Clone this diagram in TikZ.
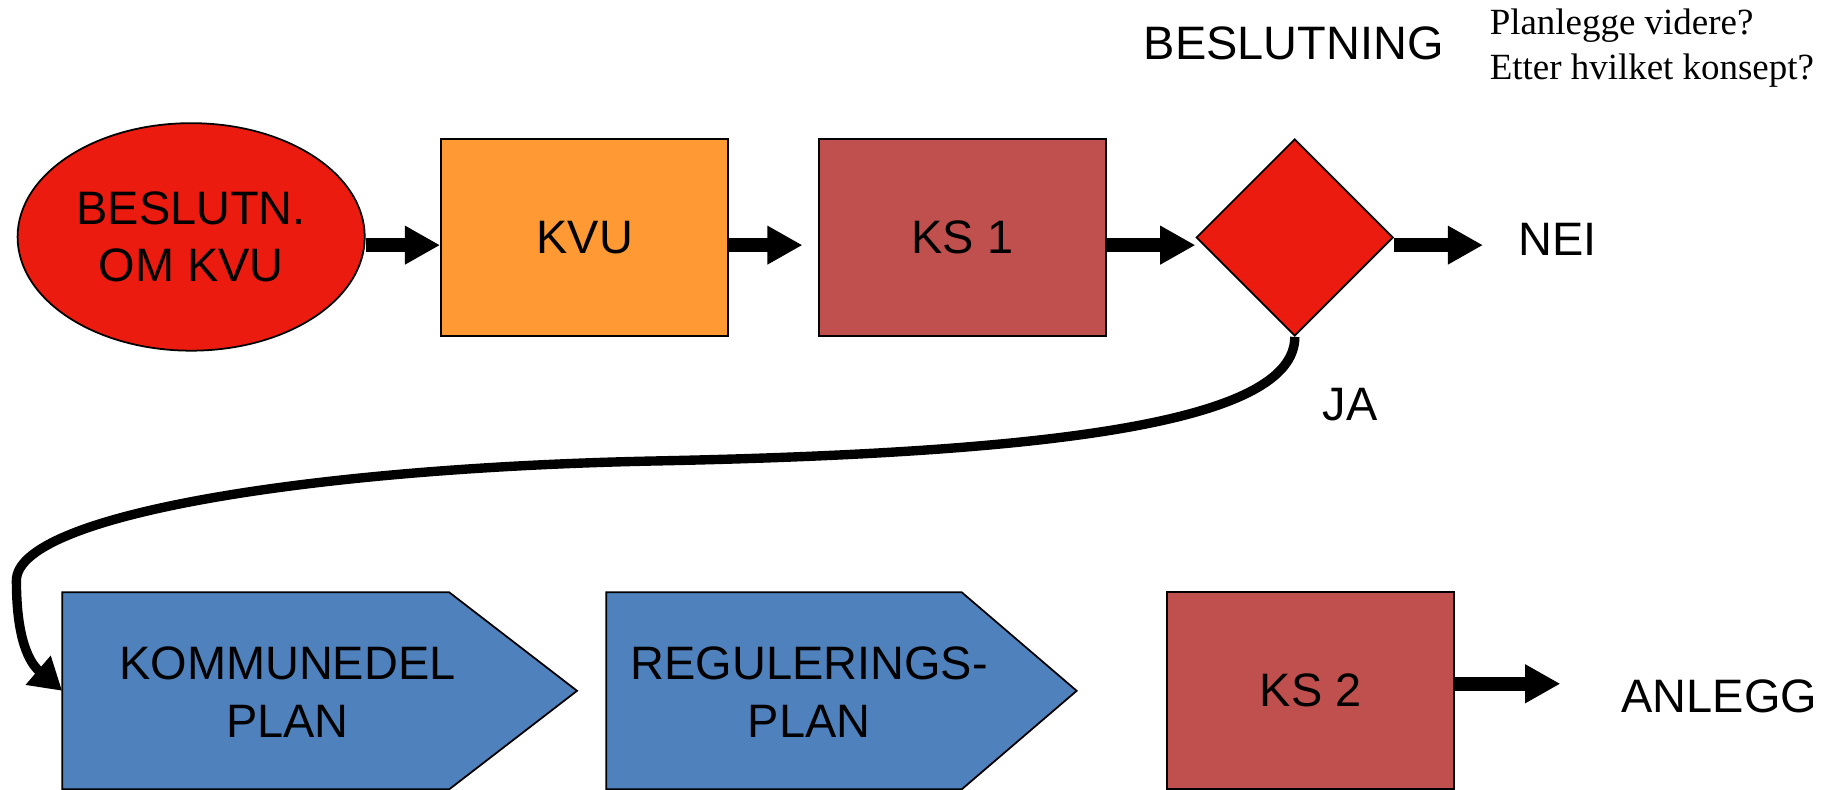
\documentclass[tikz,border=0pt]{standalone}
\usepackage{fontspec}
\setmainfont{Liberation Sans}
\newfontfamily\serifq{Liberation Serif}
\usetikzlibrary{shapes.geometric,arrows.meta}
\definecolor{cred}{RGB}{236,27,16}
\definecolor{corange}{RGB}{255,153,51}
\definecolor{cks}{RGB}{192,80,77}
\definecolor{cblue}{RGB}{79,129,189}
\begin{document}
\begin{tikzpicture}[x=1pt,y=-1pt,
  lbl/.style={font=\fontsize{40}{49}\selectfont, inner sep=0pt, align=center},
  box/.style={draw=black, line width=1.5pt, minimum width=245pt, minimum height=168pt, inner sep=0pt, font=\fontsize{40}{49}\selectfont},
  shapeline/.style={draw=black, line width=1.5pt},
  blockarrow/.style={line width=12pt, -{Triangle[length=30pt,width=31pt]}},
  curvearrow/.style={line width=8pt, -{Triangle[length=27pt,width=31pt]}},
]
\useasboundingbox (0,0) rectangle (1568,673);

% top row
\node[ellipse, shapeline, fill=cred, minimum width=296pt, minimum height=194pt, lbl] (ell) at (163,202) {BESLUTN.\\OM KVU};
\node[box, fill=corange] (kvu) at (498.5,202.5) {KVU};
\node[box, fill=cks] (ks1) at (820.5,202.5) {KS 1};
\node[diamond, shapeline, fill=cred, minimum width=168pt, minimum height=168pt, inner sep=0pt, aspect=1] (dia) at (1104,202.5) {};
\node[lbl] (nei) at (1328,204) {NEI};
\node[lbl] (beslutning) at (1103,37) {BESLUTNING};
\node[anchor=north west, inner sep=0pt, align=left, font=\serifq\fontsize{31.5}{38.5}\selectfont] (q) at (1270,7) {Planlegge videre?\\Etter hvilket konsept?};
\node[lbl] (ja) at (1151,345) {JA};

% bottom row
\path[shapeline, fill=cblue] (53,505) -- (383,505) -- (492,589) -- (383,673) -- (53,673) -- cycle;
\node[lbl] (kpl) at (245,590) {KOMMUNEDEL\\PLAN};
\coordinate (kplw) at (53,589);
\path[shapeline, fill=cblue] (517,505) -- (820,505) -- (918,589) -- (820,673) -- (517,673) -- cycle;
\node[lbl] (rpl) at (690,590) {REGULERINGS-\\PLAN};
\node[box, fill=cks] (ks2) at (1117.5,589) {KS 2};
\node[lbl] (anlegg) at (1466,594) {ANLEGG};

% connectors
\draw[blockarrow] ([yshift=-7pt]ell.east) -- ([yshift=-7pt]ell.east -| kvu.west);
\draw[blockarrow, shorten >=13pt] ([yshift=-6.5pt]kvu.east) -- ([yshift=-6.5pt]ks1.west);
\draw[blockarrow] ([yshift=-6.5pt]ks1.east) -- ([yshift=-6.5pt]ks1.east -| dia.west);
\draw[blockarrow, shorten >=30pt] ([yshift=-6.5pt]dia.east) -- ([yshift=-6.5pt]dia.east -| nei.west);
\draw[blockarrow, shorten >=52pt] ([yshift=6pt]ks2.east) -- ([yshift=6pt]ks2.east -| anlegg.west);
\draw[curvearrow] (dia.south) .. controls (1104,360) and (900,386) .. (560,393) .. controls (260,399) and (14,440) .. (14,495) .. controls (14,545) and (25,565) .. (kplw);
\end{tikzpicture}
\end{document}
